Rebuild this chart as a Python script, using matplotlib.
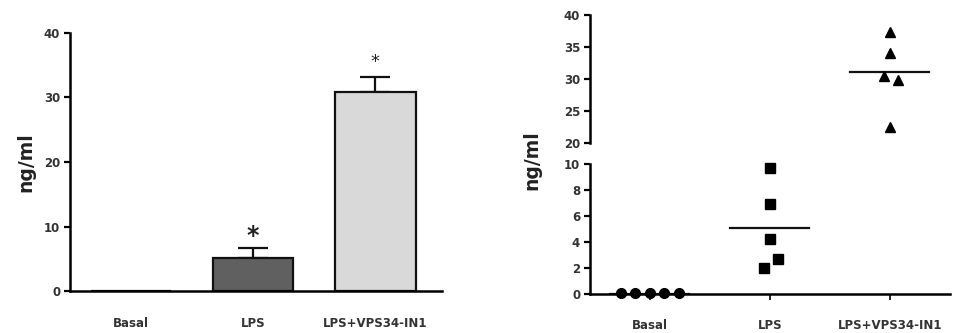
import matplotlib.pyplot as plt
import numpy as np

# data
groups = ['Basal', 'LPS', 'LPS+VPS34-IN1']
bar_means = [0.0, 5.1, 30.9]
bar_err = [0.0, 1.5, 2.3]
bar_colors = ['#ffffff', '#606060', '#d9d9d9']
stars = ['', '*', '*']

basal_pts = [0.05, 0.05, 0.05, 0.05, 0.05]
lps_pts = [9.7, 6.9, 4.2, 2.0, 2.7]
vps_pts = [37.3, 34.0, 30.5, 29.8, 22.5]
basal_dx = [-0.24, -0.12, 0.0, 0.12, 0.24]
lps_dx = [0.0, 0.0, 0.0, -0.05, 0.07]
vps_dx = [0.0, 0.0, -0.05, 0.07, 0.0]
means = [0.0, 5.1, 31.1]

tick_font = dict(fontsize=8.5, fontweight='bold', color='#333333')
lab_font = dict(fontsize=13.5, fontweight='bold', color='#222222')

fig = plt.figure(figsize=(9.75, 3.33), dpi=100)

# ---- left panel: bars ----
ax = fig.add_axes([0.0718, 0.126, 0.382, 0.775])
x = np.arange(len(groups))
ax.bar(x, bar_means, width=0.66, color=bar_colors, edgecolor='#111111', linewidth=1.6, zorder=2)
ax.errorbar(x[1:], bar_means[1:], yerr=[[0, 0], bar_err[1:]], fmt='none', ecolor='#111111',
            elinewidth=1.6, capsize=11, capthick=1.6, zorder=1)
ax.text(1, bar_means[1] + bar_err[1] + 2.0, stars[1], ha='center', va='center', fontsize=17,
        fontweight='bold', color='#222222')
ax.text(2, bar_means[2] + bar_err[2] + 2.3, stars[2], ha='center', va='center', fontsize=13, color='#222222')
ax.set_xlim(-0.5, 2.55)
ax.set_ylim(0, 40)
ax.set_yticks([0, 10, 20, 30, 40])
ax.set_xticks(x)
ax.set_xticklabels(groups, **tick_font)
for t in ax.get_yticklabels():
    t.set(**tick_font)
ax.tick_params(axis='x', length=0, pad=19)
ax.tick_params(axis='y', width=1.6, length=4, pad=3)
for s in ['top', 'right']:
    ax.spines[s].set_visible(False)
for s in ['left', 'bottom']:
    ax.spines[s].set_linewidth(1.8)
ax.set_ylabel('ng/ml', labelpad=6, **lab_font)

# ---- right panel: scatter with broken axis ----
axt = fig.add_axes([0.605, 0.571, 0.369, 0.384])
axb = fig.add_axes([0.605, 0.117, 0.369, 0.391])

pts = [basal_pts, lps_pts, vps_pts]
dxs = [basal_dx, lps_dx, vps_dx]
marks = ['o', 's', '^']
for a, (lo, hi) in ((axt, (20, 40)), (axb, (0, 10))):
    for i in range(3):
        xs = np.array(dxs[i]) + i
        ys = np.array(pts[i])
        keep = (ys >= lo - 0.5) & (ys <= hi + 0.5)
        a.plot(xs[keep], ys[keep], linestyle='none', marker=marks[i], markersize=7,
               color='black', clip_on=False, zorder=3)
        if lo <= means[i] <= hi:
            a.plot([i - 0.33, i + 0.33], [means[i], means[i]], color='#111111', linewidth=1.6)
    a.set_xlim(-0.5, 2.5)
    a.set_ylim(lo, hi)
    for s in ['top', 'right']:
        a.spines[s].set_visible(False)
    a.spines['left'].set_linewidth(1.8)
    a.tick_params(axis='y', width=1.6, length=4, pad=3)

axt.set_yticks([20, 25, 30, 35, 40])
axt.spines['bottom'].set_visible(False)
axt.set_xticks([])
for t in axt.get_yticklabels():
    t.set(**tick_font)

axb.set_yticks([0, 2, 4, 6, 8, 10])
axb.spines['bottom'].set_linewidth(1.8)
axb.set_xticks(x)
axb.set_xticklabels(groups, **tick_font)
axb.tick_params(axis='x', width=1.2, length=4, pad=14)
for t in axb.get_yticklabels():
    t.set(**tick_font)

fig.text(0.546, 0.52, 'ng/ml', rotation=90, ha='center', va='center', **lab_font)

fig.savefig('out.png', dpi=100)
